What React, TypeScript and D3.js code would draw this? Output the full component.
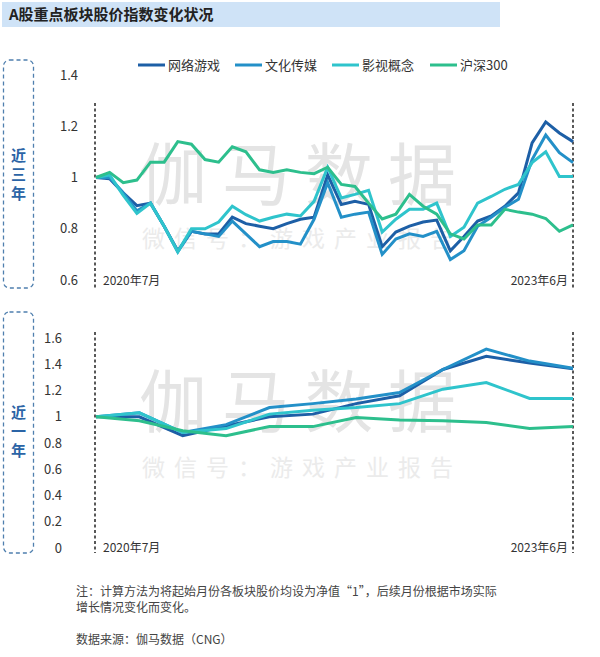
import * as d3 from 'd3';

// 近三年: 2020年7月 – 2023年6月, monthly
const gameThree = [1.0, 0.995, 0.94, 0.89, 0.9, 0.81, 0.714, 0.79, 0.78, 0.78, 0.845, 0.82, 0.81, 0.8, 0.82, 0.837, 0.845, 1.01, 0.895, 0.907, 0.895, 0.73, 0.787, 0.81, 0.826, 0.834, 0.714, 0.77, 0.83, 0.85, 0.888, 0.94, 1.135, 1.217, 1.174, 1.14];
const mediaThree = [1.0, 1.0, 0.94, 0.87, 0.9, 0.81, 0.71, 0.79, 0.78, 0.77, 0.83, 0.78, 0.73, 0.75, 0.75, 0.74, 0.837, 0.98, 0.845, 0.857, 0.865, 0.7, 0.76, 0.78, 0.77, 0.79, 0.68, 0.714, 0.81, 0.845, 0.884, 0.915, 1.07, 1.166, 1.097, 1.058];
const filmThree = [1.0, 1.01, 0.93, 0.86, 0.9, 0.81, 0.71, 0.8, 0.8, 0.826, 0.888, 0.855, 0.83, 0.845, 0.857, 0.85, 0.907, 1.04, 0.92, 0.934, 0.95, 0.787, 0.837, 0.876, 0.876, 0.9, 0.77, 0.806, 0.9, 0.926, 0.954, 0.973, 1.058, 1.1, 1.004, 1.004];
const hs300Three = [1.0, 1.02, 0.98, 0.99, 1.06, 1.06, 1.14, 1.13, 1.07, 1.06, 1.12, 1.1, 1.03, 1.02, 1.03, 1.02, 1.015, 1.04, 0.973, 0.965, 0.9, 0.838, 0.857, 0.934, 0.888, 0.857, 0.78, 0.76, 0.815, 0.815, 0.876, 0.865, 0.857, 0.84, 0.79, 0.815];

// 近一年
const gameOne = [1.0, 1.0, 0.856, 0.93, 1.0, 1.02, 1.1, 1.16, 1.36, 1.46, 1.41, 1.366];
const mediaOne = [1.0, 1.03, 0.88, 0.94, 1.07, 1.1, 1.136, 1.184, 1.36, 1.515, 1.424, 1.37];
const filmOne = [1.0, 1.03, 0.88, 0.91, 1.02, 1.05, 1.07, 1.1, 1.21, 1.26, 1.14, 1.14];
const hs300One = [1.0, 0.97, 0.894, 0.856, 0.925, 0.925, 0.994, 0.975, 0.97, 0.957, 0.91, 0.925];

const seriesNames = ['网络游戏', '文化传媒', '影视概念', '沪深300'];
const seriesColors = ['#1d5fa6', '#2390c8', '#2fc4cc', '#2dbf8d'];
const ticksThree = [0.6, 0.8, 1, 1.2, 1.4];
const ticksOne = [0, 0.2, 0.4, 0.6, 0.8, 1, 1.2, 1.4, 1.6];
const startLabel = '2020年7月';
const endLabel = '2023年6月';

const FONT = '"Noto Sans CJK SC", "Noto Sans", sans-serif';
const X0 = 96;
const X1 = 573;

function Panel({ series, ticks, yRange, domain, tickX, lineTop, lineBottom, labelY, sideText, boxTop, boxBottom, sideYs, wmY, wmSize, subY }: any) {
  const n = series[0].length;
  const x = d3.scaleLinear().domain([0, n - 1]).range([X0, X1]);
  const y = d3.scaleLinear().domain(domain).range(yRange);
  const line = d3.line<number>().x((_, i) => x(i)).y(d => y(d));

  return (
    <g>
      {/* watermark */}
      <text x={305} y={wmY} textAnchor="middle" fontSize={wmSize} fill="#e4e4e4" letterSpacing={15} fontFamily={FONT}>伽马数据</text>
      <text x={302} y={subY} textAnchor="middle" fontSize={23} fill="#ebebeb" letterSpacing={9} fontFamily={FONT}>微信号：游戏产业报告</text>

      <rect x={3.5} y={boxTop} width={30} height={boxBottom - boxTop} rx={6} fill="none" stroke="#4f7fae" strokeWidth={1.3} strokeDasharray="4,3" />
      {sideText.split('').map((c: string, i: number) => (
        <text key={i} x={18.5} y={sideYs[i]} dy="0.35em" textAnchor="middle" fontSize={15} fontWeight="bold" fill="#2b64a6" fontFamily={FONT}>{c}</text>
      ))}

      {ticks.map((t: number) => (
        <text key={t} x={tickX} y={y(t)} dy="0.35em" textAnchor="end" fontSize={13} fill="#333" fontFamily={FONT}>{String(t)}</text>
      ))}

      <line x1={95} x2={95} y1={lineTop} y2={lineBottom} stroke="#222" strokeWidth={1.5} strokeDasharray="3,2.5" />
      <line x1={X1} x2={X1} y1={lineTop} y2={lineBottom} stroke="#222" strokeWidth={1.5} strokeDasharray="3,2.5" />

      {series.map((s: number[], i: number) => (
        <path key={i} d={line(s) || ''} fill="none" stroke={seriesColors[i]} strokeWidth={3} strokeLinejoin="miter" />
      ))}

      <text x={103} y={labelY} fontSize={12} fill="#333" fontFamily={FONT}>{startLabel}</text>
      <text x={568} y={labelY} textAnchor="end" fontSize={12} fill="#333" fontFamily={FONT}>{endLabel}</text>
    </g>
  );
}

export default function App() {
  const legendX = [138, 235, 332, 430];
  return (
    <div style={{ position: 'absolute', left: 0, top: 0, background: '#fff' }}>
      <svg width={600} height={657} style={{ display: 'block' }}>
        <rect x={0} y={0} width={600} height={657} fill="#fff" />
        <rect x={2} y={2} width={498} height={25} fill="#cfe3f7" />
        <text x={9} y={20} fontSize={15} fontWeight="bold" fill="#222" fontFamily={FONT}>A股重点板块股价指数变化状况</text>

        {seriesNames.map((name, i) => (
          <g key={name}>
            <line x1={legendX[i]} x2={legendX[i] + 27} y1={65} y2={65} stroke={seriesColors[i]} strokeWidth={3} />
            <text x={legendX[i] + 30} y={65} dy="0.35em" fontSize={13} fill="#333" fontFamily={FONT}>{name}</text>
          </g>
        ))}

        <Panel
          series={[gameThree, mediaThree, filmThree, hs300Three]}
          ticks={ticksThree}
          domain={[0.6, 1.4]}
          yRange={[280, 75]}
          tickX={78}
          lineTop={103}
          lineBottom={289}
          labelY={285}
          sideText="近三年"
          boxTop={60}
          boxBottom={288}
          sideYs={[156, 175, 194]}
          wmY={200}
          wmSize={68}
          subY={247}
        />
        <Panel
          series={[gameOne, mediaOne, filmOne, hs300One]}
          ticks={ticksOne}
          domain={[0, 1.6]}
          yRange={[548, 338]}
          tickX={62}
          lineTop={332}
          lineBottom={553}
          labelY={552}
          sideText="近一年"
          boxTop={312}
          boxBottom={553}
          sideYs={[413, 432, 451]}
          wmY={427}
          wmSize={68}
          subY={476}
        />

        <text x={76} y={596} fontSize={12} fill="#444" fontFamily={FONT}>注：计算方法为将起始月份各板块股价均设为净值“1”，后续月份根据市场实际</text>
        <text x={76} y={612} fontSize={12} fill="#444" fontFamily={FONT}>增长情况变化而变化。</text>
        <text x={76} y={644} fontSize={12} fill="#444" fontFamily={FONT}>数据来源：伽马数据（CNG）</text>
      </svg>
    </div>
  );
}
